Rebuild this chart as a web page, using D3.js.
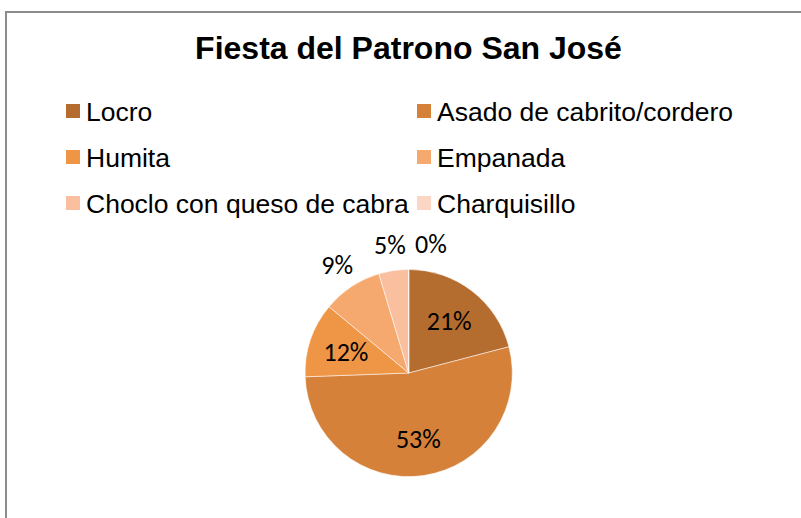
<!DOCTYPE html>
<html><head><meta charset="utf-8">
<script src="https://cdn.jsdelivr.net/npm/d3@7/dist/d3.min.js"></script>
<style>html,body{margin:0;padding:0;background:#fff;}svg{display:block;}</style>
</head><body>
<svg id="chart" width="801" height="518"></svg>
<script>
const title = "Fiesta del Patrono San José";
const categories = ["Locro", "Asado de cabrito/cordero", "Humita", "Empanada", "Choclo con queso de cabra", "Charquisillo"];
const values = [9, 23, 5, 4, 2, 0];
const colors = ["#B56D2F", "#D5813A", "#EE9546", "#F6A96F", "#F9BF9E", "#FBD6C4"];

const W = 801, H = 518;
const svg = d3.select("#chart");
svg.append("rect").attr("x", 0).attr("y", 0).attr("width", W).attr("height", H).attr("fill", "#fff");
// chart frame
svg.append("path").attr("d", `M6,${H + 2} V12 H${W + 2}`)
  .attr("fill", "none").attr("stroke", "#8c8c8c").attr("stroke-width", 2);

svg.append("text").attr("x", 408.5).attr("y", 59).attr("text-anchor", "middle")
  .attr("font-family", "'Liberation Sans', Arial, sans-serif").attr("font-weight", "bold")
  .attr("font-size", 32).attr("fill", "#000").text(title);

// legend
const legCols = [66, 417], legRows = [111, 157, 203];
const leg = svg.append("g");
categories.forEach((c, i) => {
  const x = legCols[i % 2], y = legRows[Math.floor(i / 2)];
  leg.append("rect").attr("x", x).attr("y", y - 7).attr("width", 14).attr("height", 14).attr("fill", colors[i]);
  leg.append("text").attr("x", x + 20).attr("y", y).attr("dy", "0.36em")
    .attr("font-family", "'Liberation Sans', Arial, sans-serif").attr("font-size", 26.5)
    .attr("fill", "#000").text(c);
});

// pie
const cx = 408.7, cy = 373, R = 103.6;
const total = d3.sum(values);
const pie = d3.pie().sort(null).value(d => d)(values);
const arc = d3.arc().innerRadius(0).outerRadius(R);
const g = svg.append("g").attr("transform", `translate(${cx},${cy})`);
g.selectAll("path.slice").data(pie).join("path").attr("class", "slice")
  .attr("d", arc).attr("fill", (d, i) => colors[i])
  .attr("stroke", "#fff").attr("stroke-width", 0.75).attr("stroke-opacity", 0.7);

// labels
const inArc = d3.arc().innerRadius(R * 0.64).outerRadius(R * 0.64);
const outArc = d3.arc().innerRadius(R * 1.25).outerRadius(R * 1.25);
const fmt = v => Math.round(v / total * 100) + "%";
const labels = pie.map((d, i) => {
  const inside = d.value / total >= 0.1;
  const p = (inside ? inArc : outArc).centroid(d);
  return {x: p[0], y: p[1], text: fmt(d.value), inside};
});
// resolve overlaps of outside labels (shift later label right)
const outs = labels.filter(l => !l.inside);
for (let k = 1; k < outs.length; k++) {
  const a = outs[k - 1], b = outs[k];
  const minGap = 41;
  if (Math.abs(b.x - a.x) < minGap && Math.abs(b.y - a.y) < 24) b.x = a.x + minGap;
}
g.selectAll("text.lbl").data(labels).join("text").attr("class", "lbl")
  .attr("x", d => d.x).attr("y", d => d.y).attr("dy", "0.35em").attr("text-anchor", "middle")
  .attr("font-family", "Carlito, Lato, 'Open Sans', sans-serif").attr("font-size", 26)
  .attr("fill", "#000").text(d => d.text);
</script>
</body></html>
